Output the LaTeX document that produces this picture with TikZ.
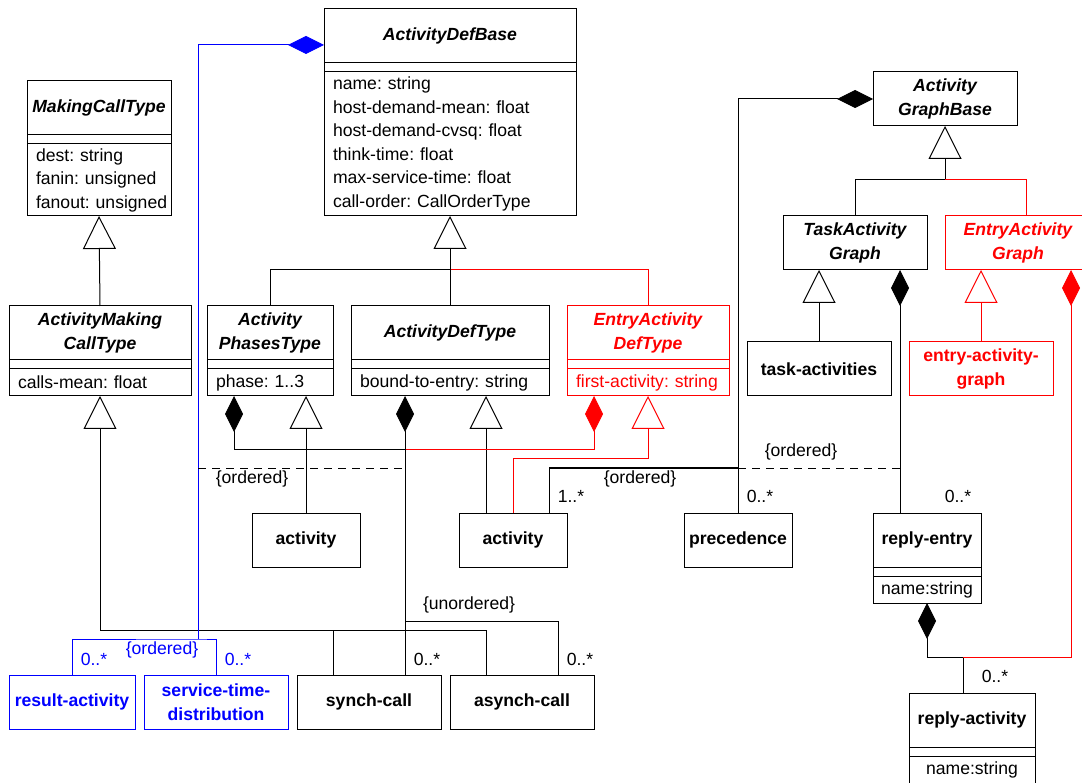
\documentclass[tikz,border=0pt]{standalone}
\usepackage{fontspec}
\setmainfont{Liberation Sans}
\usetikzlibrary{arrows.meta, positioning}
\newcommand{\umlsize}{\fontsize{17.6pt}{23.5pt}\selectfont}
\frenchspacing

\begin{document}
\begin{tikzpicture}[%
    ,x=1pt, y=-1pt
    ,line width=1pt
    ,every node/.style={font=\umlsize, inner sep=0pt, outer sep=0pt}
    ,box/.style = {%
        ,draw
        ,minimum height=54pt
        ,align=center
        ,font=\umlsize\bfseries
        }
    ,abox/.style = {box, font=\umlsize\bfseries\itshape}
    ,gapbox/.style = {draw, minimum height=9pt}
    ,attr/.style = {%
        ,draw
        ,align=left
        ,inner xsep=9pt
        ,text width=#1
        ,minimum height=27pt
        }
    ,gen/.style = {-{Triangle[open, length=33pt, width=33pt]}}
    ,comp/.style = {-{Diamond[length=36pt, width=18pt]}}
    ,constr/.style = {dashed, dash pattern=on 8pt off 6pt}
    ]
\useasboundingbox (0,0) rectangle (1082,783);
\clip (0,0) rectangle (1082,783);

% Classes with compartments
\node (mct)  [abox, minimum width=144pt] at (99,108) {MakingCallType};
\node (mctg) [gapbox, minimum width=144pt, below=0pt of mct] {};
\node (mcta) [attr=142pt, inner xsep=1pt, minimum height=72pt, below=0pt of mctg]
    {\hspace*{8pt}dest: string\\\hspace*{8pt}fanin: unsigned\\\hspace*{8pt}fanout: unsigned};

\node (adb)  [abox, minimum width=252pt] at (450,36) {ActivityDefBase};
\node (adbg) [gapbox, minimum width=252pt, below=0pt of adb] {};
\node (adba) [attr=234pt, minimum height=144pt, below=0pt of adbg]
    {name: string\\host-demand-mean: float\\host-demand-cvsq: float\\
     think-time: float\\max-service-time: float\\call-order: CallOrderType};

\node (amc)  [abox, minimum width=182pt] at (100,333) {ActivityMaking\\CallType};
\node (amcg) [gapbox, minimum width=182pt, below=0pt of amc] {};
\node (amca) [attr=164pt, below=0pt of amcg] {calls-mean: float};

\node (apt)  [abox, minimum width=126pt] at (270,333) {Activity\\PhasesType};
\node (aptg) [gapbox, minimum width=126pt, below=0pt of apt] {};
\node (apta) [attr=108pt, below=0pt of aptg] {phase: 1..3};

\node (adt)  [abox, minimum width=198pt] at (450,333) {ActivityDefType};
\node (adtg) [gapbox, minimum width=198pt, below=0pt of adt] {};
\node (adta) [attr=180pt, below=0pt of adtg] {bound-to-entry: string};

\node (eadt)  [abox, red, minimum width=162pt] at (648,333) {EntryActivity\\DefType};
\node (eadtg) [gapbox, red, minimum width=162pt, below=0pt of eadt] {};
\node (eadta) [attr=150pt, inner xsep=6pt, red, below=0pt of eadtg]
    {\hspace*{3pt}first-activity: string};

\node (re)  [box, minimum width=108pt] at (927,540) {reply-entry};
\node (reg) [gapbox, minimum width=108pt, below=0pt of re] {};
\node (rea) [attr=100pt, inner xsep=4pt, align=center, below=0pt of reg] {name:string};

\node (ra)  [box, minimum width=126pt] at (972,720) {reply-activity};
\node (rag) [gapbox, minimum width=126pt, below=0pt of ra] {};
\node (raa) [attr=108pt, align=center, below=0pt of rag] {name:string};

% Plain boxes
\node (agb)  [abox, minimum width=144pt] at (945,99) {Activity\\GraphBase};
\node (tag)  [abox, minimum width=144pt] at (855,243) {TaskActivity\\Graph};
\node (eag)  [abox, red, minimum width=146pt] at (1018,243) {EntryActivity\\Graph};
\node (tact) [box, minimum width=144pt] at (819,369) {task-activities};
\node (eagr) [box, red, minimum width=144pt] at (981,369) {entry-activity-\\graph};
\node (act1) [box, minimum width=108pt] at (306,540) {activity};
\node (act2) [box, minimum width=108pt] at (513,540) {activity};
\node (prec) [box, minimum width=108pt] at (738,540) {precedence};
\node (res)  [box, blue, minimum width=126pt] at (72,702) {result-activity};
\node (std)  [box, blue, minimum width=144pt] at (216,702) {service-time-\\distribution};
\node (sc)   [box, minimum width=144pt] at (369,702) {synch-call};
\node (asc)  [box, minimum width=144pt] at (522,702) {asynch-call};

% Junctions
\coordinate (adbj) at (450,270);
\coordinate (amcj) at (100,630);
\coordinate (agbj) at (945,180);
\coordinate (brk)  at (198,639);
\coordinate (cj)   at (405,450);
\coordinate (uj)   at (405,621);
\coordinate (oj)   at (738,468);
\coordinate (raj)  at (963,657);
\coordinate (c1)   at (198,468);
\coordinate (c2)   at (405,468);
\coordinate (c3)   at (900,468);

% Generalisations
\draw[gen] (amc.north) -- (mcta.south);
\draw (apt.north) |- (adbj);
\draw[red] (eadt.north) |- (adbj);
\draw[gen] (adt.north) -- (adba.south);
\draw[gen] (act1.north) -- ([xshift=36pt]apta.south);
\draw[gen] ([xshift=-27pt]act2.north) -- ([xshift=36pt]adta.south);
\draw[red, gen] (act2.north) -- ++(0,-54) -| (eadta.south);
\draw[gen] (amcj) -- (amca.south);
\draw ([xshift=-36pt]sc.north) |- (amcj);
\draw ([xshift=-36pt]asc.north) |- (amcj);
\draw[gen] (agbj) -- (agb.south);
\draw (tag.north) |- (agbj);
\draw[red] ([xshift=8pt]eag.north) |- (agbj);
\draw[gen] (tact.north) -- ([xshift=-36pt]tag.south);
\draw[red, gen] (eagr.north) -- (eagr.north |- eag.south);

% Compositions
\draw[blue] (res.north) |- (brk) -| (std.north);
\draw[blue, comp] (brk) |- ([yshift=-9pt]adb.west);
\draw[comp] (cj) -| ([xshift=-36pt]apta.south);
\draw[red, comp] (cj) -| ([xshift=-54pt]eadta.south);
\draw[comp] ([xshift=36pt]sc.north) -- ([xshift=-45pt]adta.south);
\draw (uj) -| ([xshift=36pt]asc.north);
\draw[comp] (prec.north) |- (agb.west);
\draw ([xshift=36pt]act2.north) |- (oj);
\draw[comp] ([xshift=-27pt]re.north) -- ([xshift=45pt]tag.south);
\draw ([xshift=-9pt]ra.north) -- (raj);
\draw[comp] (raj) -| (rea.south);
\draw[red, comp] (raj) -| ([xshift=53pt]eag.south);

% Constraints
\draw[constr, line width=0.8pt] (c1) -- (c2);
\draw[constr, line width=0.8pt] (oj) -- (c3);

% Labels
\node (l1)  at (252,479) {\{ordered\}};
\node (l2)  [text=blue] at (162,650) {\{ordered\}};
\node (l3)  [text=blue] at (94,659) {0..*};
\node (l4)  [text=blue] at (238,659) {0..*};
\node (l5)  at (469,605) {\{unordered\}};
\node (l6)  at (427,659) {0..*};
\node (l7)  at (580,659) {0..*};
\node (l8)  at (640,479) {\{ordered\}};
\node (l9)  at (571,496) {1..*};
\node (l10) at (760,496) {0..*};
\node (l11) at (801,452) {\{ordered\}};
\node (l12) at (958,496) {0..*};
\node (l13) at (995,676) {0..*};
\end{tikzpicture}
\end{document}
